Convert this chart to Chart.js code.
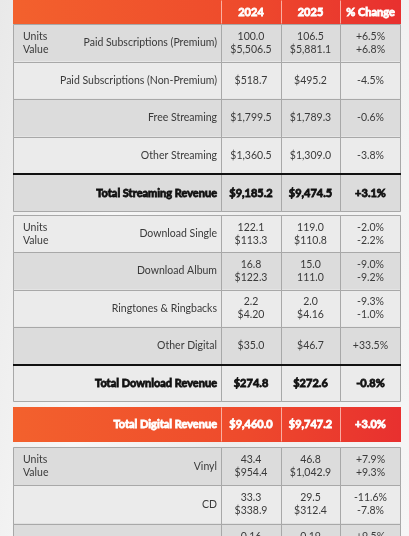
<!DOCTYPE html>
<html>
<head>
<meta charset="utf-8">
<script src="https://cdn.jsdelivr.net/npm/chart.js@4.4.1/dist/chart.umd.min.js"></script>
<style>
  html, body { margin: 0; padding: 0; }
  body {
    width: 409px; height: 536px; overflow: hidden; position: relative;
    background: linear-gradient(100deg, #e9e9e9 0%, #f7f7f7 30%, #ededed 60%, #f6f6f6 100%);
  }
  .part { position: absolute; left: 13px; }
  .part canvas { display: block; }
</style>
</head>
<body>
<div class="part" style="top:0px"><canvas id="head" width="388" height="24"></canvas></div>
<div class="part" style="top:24px"><canvas id="streaming" width="388" height="188"></canvas></div>
<div class="part" style="top:215px"><canvas id="download" width="388" height="187"></canvas></div>
<div class="part" style="top:407px"><canvas id="digital" width="388" height="35"></canvas></div>
<div class="part" style="top:447px"><canvas id="physical" width="388" height="115"></canvas></div>
<script>
// column headers
var headerYears = ['2024', '2025', '% Change'];

// streaming block
var streamingRows = ['Paid Subscriptions (Premium)', 'Paid Subscriptions (Non-Premium)', 'Free Streaming', 'Other Streaming', 'Total Streaming Revenue'];
var streamingUnits2024 = ['100.0', '', '', '', ''];
var streamingUnits2025 = ['106.5', '', '', '', ''];
var streamingUnitsChange = ['+6.5%', '', '', '', ''];
var streamingValue2024 = ['$5,506.5', '$518.7', '$1,799.5', '$1,360.5', '$9,185.2'];
var streamingValue2025 = ['$5,881.1', '$495.2', '$1,789.3', '$1,309.0', '$9,474.5'];
var streamingValueChange = ['+6.8%', '-4.5%', '-0.6%', '-3.8%', '+3.1%'];

// download block
var downloadRows = ['Download Single', 'Download Album', 'Ringtones & Ringbacks', 'Other Digital', 'Total Download Revenue'];
var downloadUnits2024 = ['122.1', '16.8', '2.2', '', ''];
var downloadUnits2025 = ['119.0', '15.0', '2.0', '', ''];
var downloadUnitsChange = ['-2.0%', '-9.0%', '-9.3%', '', ''];
var downloadValue2024 = ['$113.3', '$122.3', '$4.20', '$35.0', '$274.8'];
var downloadValue2025 = ['$110.8', '111.0', '$4.16', '$46.7', '$272.6'];
var downloadValueChange = ['-2.2%', '-9.2%', '-1.0%', '+33.5%', '-0.8%'];

// total digital
var digitalRows = ['Total Digital Revenue'];
var digitalValue2024 = ['$9,460.0'];
var digitalValue2025 = ['$9,747.2'];
var digitalValueChange = ['+3.0%'];

// physical block (last row is cut off in the picture)
var physicalRows = ['Vinyl', 'CD', ''];
var physicalUnits2024 = ['43.4', '33.3', '0.16'];
var physicalUnits2025 = ['46.8', '29.5', '0.19'];
var physicalUnitsChange = ['+7.9%', '-11.6%', '+9.5%'];
var physicalValue2024 = ['$954.4', '$338.9', ''];
var physicalValue2025 = ['$1,042.9', '$312.4', ''];
var physicalValueChange = ['+9.3%', '-7.8%', ''];

// layout
var colEdges = [0, 208, 268, 327, 388];
var FONT = '"Lato", "Liberation Sans", sans-serif';
var GRAY = '#dcdcdc';
var LIGHT = '#ebebeb';
var LINE = '#a8a8a8';

function orangeFill(context) {
  var area = context.chart.chartArea;
  if (!area) return '#ee4b2b';
  var g = context.chart.ctx.createLinearGradient(area.left, 0, area.right, 0);
  g.addColorStop(0, '#f3612d');
  g.addColorStop(0.6, '#ee4a2c');
  g.addColorStop(1, '#e8302f');
  return g;
}

function px(v, max) {
  return Math.min(Math.round(v) + 0.5, max - 0.5);
}

// fill + thin stroke so bold text reads as a heavy weight
function heavyText(g, text, x, y) {
  g.fillText(text, x, y);
  g.strokeText(text, x, y);
}

// draws grid lines and cell texts on top of the bars
function tablePlugin(section) {
  return {
    id: 'tableText',
    afterDatasetsDraw: function (chart) {
      var g = chart.ctx;
      var W = chart.width, H = chart.height;
      g.save();

      // cell borders
      for (var c = 0; c < 4; c++) {
        var meta = chart.getDatasetMeta(c);
        meta.data.forEach(function (bar) {
          var l = px(Math.min(bar.base, bar.x), W);
          var r = px(Math.max(bar.base, bar.x), W);
          var t = px(bar.y - bar.height / 2, H);
          var b = px(bar.y + bar.height / 2, H);
          g.strokeStyle = section.orange ? 'rgba(255,200,190,0.8)' : LINE;
          g.lineWidth = 1;
          g.beginPath();
          if (section.orange) {
            if (c > 0) { g.moveTo(l, t); g.lineTo(l, b); }
          } else {
            g.rect(l, t, r - l, b - t);
          }
          g.stroke();
        });
      }

      var rowsMeta = chart.getDatasetMeta(0).data;
      section.rows.forEach(function (label, i) {
        var bar = rowsMeta[i];
        var cy = bar.y;
        var isTotal = label.indexOf('Total') === 0;
        var heavy = isTotal || section.orange;

        // heavy line above a total row
        if (isTotal && i > 0) {
          g.strokeStyle = '#111';
          g.lineWidth = 2;
          g.beginPath();
          var ty = Math.round(bar.y - bar.height / 2);
          g.moveTo(0, ty);
          g.lineTo(W, ty);
          g.stroke();
        }

        var color = section.orange ? '#fff' : (isTotal ? '#111' : '#3a3a3a');
        g.fillStyle = color;
        g.strokeStyle = color;
        g.lineWidth = 0.8;
        g.font = heavy ? 'bold 11px ' + FONT : '10.5px ' + FONT;
        g.textBaseline = 'middle';
        var put = heavy ? function (t, x, y) { heavyText(g, t, x, y); } : function (t, x, y) { g.fillText(t, x, y); };

        // row label
        g.textAlign = 'right';
        put(label, chart.scales.x.getPixelForValue(colEdges[1]) - 4, cy);

        // units / value legend on the first row of a block
        var hasUnits = section.units && section.units[0][i] !== '';
        if (hasUnits && i === 0) {
          g.textAlign = 'left';
          g.fillText('Units', 10, cy - 6.5);
          g.fillText('Value', 10, cy + 6.5);
        }

        // number columns
        g.textAlign = 'center';
        for (var k = 0; k < 3; k++) {
          var mx = chart.scales.x.getPixelForValue((colEdges[k + 1] + colEdges[k + 2]) / 2);
          if (hasUnits) {
            put(section.units[k][i], mx, cy - 6.5);
            put(section.values[k][i], mx, cy + 6.5);
          } else {
            put(section.values[k][i], mx, cy);
          }
        }
      });
      g.restore();
    }
  };
}

function makeTable(canvasId, section) {
  return new Chart(document.getElementById(canvasId), {
    type: 'bar',
    data: {
      labels: section.rows,
      datasets: colEdges.slice(0, -1).map(function (edge, c) {
        return {
          data: section.rows.map(function () { return [edge, colEdges[c + 1]]; }),
          backgroundColor: function (context) {
            if (section.orange) return orangeFill(context);
            return section.fills[context.dataIndex];
          },
          borderWidth: 0,
          barPercentage: 1,
          categoryPercentage: 1,
          grouped: false
        };
      })
    },
    options: {
      indexAxis: 'y',
      responsive: false,
      animation: false,
      events: [],
      layout: { padding: 0 },
      scales: {
        x: { type: 'linear', min: 0, max: colEdges[colEdges.length - 1], display: false },
        y: { display: false }
      },
      plugins: { legend: { display: false }, tooltip: { enabled: false } }
    },
    plugins: [tablePlugin(section)]
  });
}

makeTable('head', {
  rows: [''],
  values: [[headerYears[0]], [headerYears[1]], [headerYears[2]]],
  orange: true
});

makeTable('streaming', {
  rows: streamingRows,
  units: [streamingUnits2024, streamingUnits2025, streamingUnitsChange],
  values: [streamingValue2024, streamingValue2025, streamingValueChange],
  fills: [GRAY, LIGHT, GRAY, LIGHT, GRAY]
});

makeTable('download', {
  rows: downloadRows,
  units: [downloadUnits2024, downloadUnits2025, downloadUnitsChange],
  values: [downloadValue2024, downloadValue2025, downloadValueChange],
  fills: [LIGHT, GRAY, LIGHT, GRAY, LIGHT]
});

makeTable('digital', {
  rows: digitalRows,
  values: [digitalValue2024, digitalValue2025, digitalValueChange],
  orange: true
});

makeTable('physical', {
  rows: physicalRows,
  units: [physicalUnits2024, physicalUnits2025, physicalUnitsChange],
  values: [physicalValue2024, physicalValue2025, physicalValueChange],
  fills: [GRAY, LIGHT, GRAY]
});
</script>
</body>
</html>
